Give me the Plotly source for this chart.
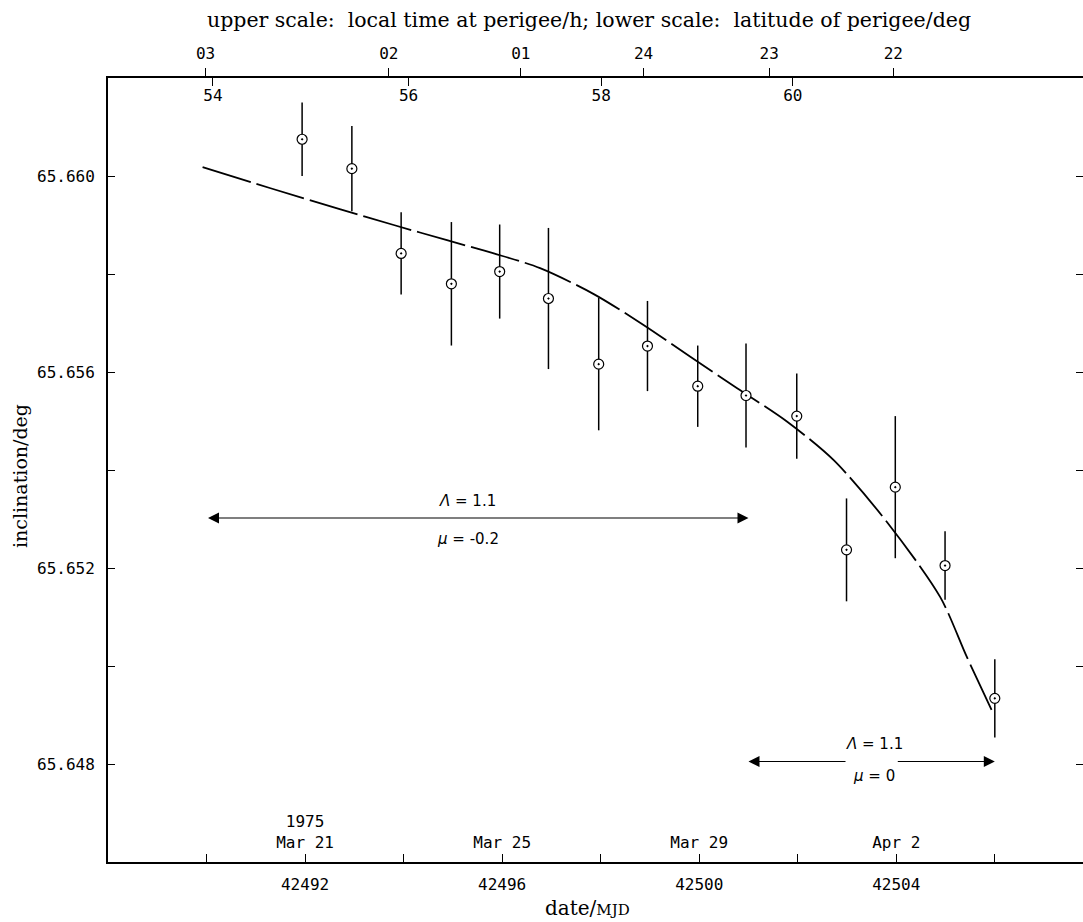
import plotly.graph_objects as go

# ---------------- data ----------------
obs_mjd = [42491.94, 42492.95, 42493.95, 42494.97, 42495.95, 42496.94, 42497.96,
           42498.95, 42499.97, 42500.95, 42501.98, 42502.99, 42503.98, 42504.99, 42506.00]
obs_incl = [65.66075, 65.66015, 65.65842, 65.65780, 65.65805, 65.65750, 65.65616,
            65.65653, 65.65571, 65.65552, 65.65510, 65.65237, 65.65365, 65.65205, 65.64934]
obs_err = [0.00075, 0.00087, 0.00084, 0.00126, 0.00096, 0.00144, 0.00135,
           0.00092, 0.00083, 0.00106, 0.00087, 0.00105, 0.00145, 0.00070, 0.00080]

fit_mjd = [42489.92, 42491.30, 42492.72, 42493.80, 42494.88, 42495.83, 42496.77,
           42497.86, 42498.87, 42499.82, 42500.77, 42501.78, 42502.73, 42503.81,
           42504.89, 42505.43, 42505.97]
fit_incl = [65.66018, 65.65975, 65.65932, 65.65900, 65.65869, 65.65842, 65.65812,
            65.65759, 65.65696, 65.65631, 65.65567, 65.65499, 65.65420, 65.65294,
            65.65141, 65.65019, 65.64903]

mjd_tick_vals = [42490, 42492, 42494, 42496, 42498, 42500, 42502, 42504, 42506]
mjd_tick_text = ["", "42492", "", "42496", "", "42500", "", "42504", ""]

date_tick_vals = [42492, 42496, 42500, 42504]
date_tick_text = ["1975<br>Mar 21", "Mar 25", "Mar 29", "Apr 2"]

local_time_vals = [42489.98, 42493.70, 42496.38, 42498.87, 42501.42, 42503.94]
local_time_text = ["03", "02", "01", "24", "23", "22"]

latitude_vals = [42490.13, 42494.10, 42498.01, 42501.90]
latitude_text = ["54", "56", "58", "60"]

incl_tick_vals = [65.648, 65.650, 65.652, 65.654, 65.656, 65.658, 65.660]
incl_tick_text = ["65.648", "", "65.652", "", "65.656", "", "65.660"]

# annotation values: (tail mjd, head mjd, inclination level)
arrow1 = (42490.0, 42501.0, 65.65302)
arrow2_left = (42503.0, 42501.0, 65.64805)
arrow2_right = (42504.0, 42506.0, 65.64805)
label1_pos = (42495.3, 65.65337, 65.65259)
label2_pos = (42503.55, 65.64840, 65.64776)

x_range = [42488.0, 42507.79]
y_range = [65.646, 65.662]

TICKFONT = dict(family="DejaVu Sans Mono", size=16, color="black")
SERIF = "DejaVu Serif"

fig = go.Figure()

fig.add_trace(go.Scatter(
    x=fit_mjd, y=fit_incl, mode="lines",
    line=dict(color="black", width=1.8, dash="50px,6px", shape="spline", smoothing=0.8),
    showlegend=False, hoverinfo="skip"))

fig.add_trace(go.Scatter(
    x=obs_mjd, y=obs_incl, mode="markers",
    marker=dict(symbol="circle-dot", size=10, color="white",
                line=dict(color="black", width=1.2)),
    error_y=dict(type="data", array=obs_err, visible=True, width=0,
                 thickness=1.5, color="black"),
    showlegend=False))

# helper traces so that the overlay axes are drawn
for xa, ya in [("x2", "y"), ("x3", "y"), ("x4", "y"), ("x", "y2")]:
    fig.add_trace(go.Scatter(x=[None], y=[None], xaxis=xa, yaxis=ya,
                             showlegend=False, hoverinfo="skip"))

fig.update_layout(
    width=1083, height=922,
    margin=dict(l=108, r=0, t=78, b=60),
    paper_bgcolor="white", plot_bgcolor="white",
    xaxis=dict(range=x_range, tickvals=mjd_tick_vals, ticktext=mjd_tick_text,
               ticks="inside", ticklen=8, tickwidth=1.3, tickcolor="black",
               showline=True, linewidth=2, linecolor="black",
               showgrid=False, zeroline=False, tickfont=TICKFONT,
               ticklabelstandoff=7),
    xaxis2=dict(range=x_range, overlaying="x", side="top", anchor="y",
                tickvals=local_time_vals, ticktext=local_time_text,
                ticks="outside", ticklen=8, tickwidth=1.3, tickcolor="black",
                showline=True, linewidth=2, linecolor="black",
                showgrid=False, zeroline=False, tickfont=TICKFONT,
                ticklabelstandoff=3),
    xaxis3=dict(range=x_range, overlaying="x", side="top", anchor="y",
                tickvals=latitude_vals, ticktext=latitude_text,
                ticks="inside", ticklen=8, tickwidth=1.3, tickcolor="black",
                ticklabelposition="inside", showline=False,
                showgrid=False, zeroline=False, tickfont=TICKFONT,
                ticklabelstandoff=4),
    xaxis4=dict(range=x_range, overlaying="x", side="bottom", anchor="y",
                tickvals=date_tick_vals, ticktext=date_tick_text,
                ticks="", ticklabelposition="inside", showline=False,
                showgrid=False, zeroline=False, tickfont=TICKFONT,
                ticklabelstandoff=8),
    yaxis=dict(range=y_range, tickvals=incl_tick_vals, ticktext=incl_tick_text,
               ticks="inside", ticklen=7, tickwidth=1.3, tickcolor="black",
               showline=True, linewidth=2, linecolor="black",
               showgrid=False, zeroline=False, tickfont=TICKFONT,
               ticklabelstandoff=8),
    yaxis2=dict(range=y_range, overlaying="y", side="right", anchor="x",
                tickvals=incl_tick_vals, showticklabels=False,
                ticks="inside", ticklen=7, tickwidth=1.3, tickcolor="black",
                showline=False, showgrid=False, zeroline=False),
    title=dict(text="upper scale:  local time at perigee/h; lower scale:  latitude of perigee/deg",
               x=589 / 1083, xanchor="center", y=1 - 20 / 922, yanchor="middle",
               font=dict(family=SERIF, size=20.5, color="black")),
)

annotations = [
    # axis titles
    dict(text="inclination/deg", xref="paper", yref="paper", x=0, y=0.5,
         xanchor="center", yanchor="middle", xshift=-88, yshift=-6, textangle=-90,
         showarrow=False, font=dict(family=SERIF, size=19, color="black")),
    dict(text="date/<span style='font-size:15px'>MJD</span>", xref="paper", yref="paper",
         x=(587 - 108) / 975, y=0, xanchor="center", yanchor="middle", yshift=-46,
         showarrow=False, font=dict(family=SERIF, size=20, color="black")),
]


def arrow(x_head, x_tail, yv, both=False):
    d = dict(x=x_head, y=yv, ax=x_tail, ay=yv, xref="x", yref="y",
             axref="x", ayref="y", text="", showarrow=True,
             arrowhead=2, arrowsize=2.0, arrowwidth=1.1, arrowcolor="black")
    if both:
        d.update(arrowside="end+start", startarrowhead=2, startarrowsize=2.0)
    return d


annotations.append(arrow(arrow1[1], arrow1[0], arrow1[2], both=True))
annotations.append(arrow(arrow2_left[1], arrow2_left[0], arrow2_left[2]))
annotations.append(arrow(arrow2_right[1], arrow2_right[0], arrow2_right[2]))

LBLFONT = dict(family="DejaVu Sans", size=15, color="black")
annotations += [
    dict(text="<i>Λ</i> = 1.1", x=label1_pos[0], y=label1_pos[1], xref="x", yref="y",
         showarrow=False, font=LBLFONT),
    dict(text="<i>μ</i> = -0.2", x=label1_pos[0], y=label1_pos[2], xref="x", yref="y",
         showarrow=False, font=LBLFONT),
    dict(text="<i>Λ</i> = 1.1", x=label2_pos[0], y=label2_pos[1], xref="x", yref="y",
         showarrow=False, font=LBLFONT),
    dict(text="<i>μ</i> = 0", x=label2_pos[0], y=label2_pos[2], xref="x", yref="y",
         showarrow=False, font=LBLFONT),
]
fig.update_layout(annotations=annotations)

fig.write_html("out.html")
